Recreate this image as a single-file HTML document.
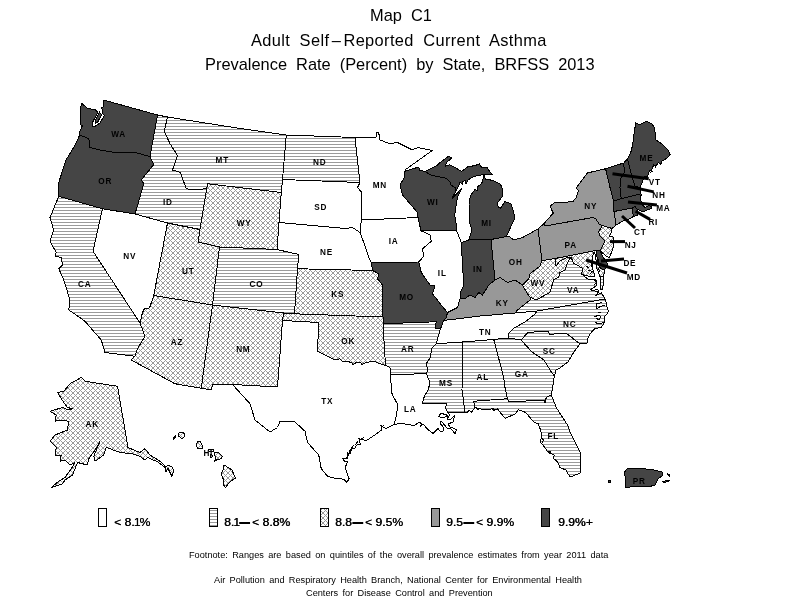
<!DOCTYPE html>
<html><head><meta charset="utf-8"><title>Map C1</title>
<style>
html,body{margin:0;padding:0;background:#fff;}
body{width:800px;height:600px;overflow:hidden;position:relative;font-family:"Liberation Sans",sans-serif;color:#000;}
svg{position:absolute;left:0;top:0;will-change:transform;}
.t{position:absolute;white-space:nowrap;line-height:1;will-change:transform;}
.ttl{font-size:16.4px;word-spacing:4.5px;}
.lg{font-size:11.2px;transform:scaleX(1.085);transform-origin:0 0;text-shadow:0.35px 0 0 #000;}
.fn{font-size:9.2px;word-spacing:1.8px;}
</style></head><body>
<svg width="800" height="600" viewBox="0 0 800 600">
<defs>
<pattern id="h" width="3" height="3" patternUnits="userSpaceOnUse"><rect width="3" height="3" fill="#fff"/><rect x="0" y="0" width="3" height="1" fill="#9a9a9a"/></pattern>
<pattern id="x" width="5" height="5" patternUnits="userSpaceOnUse"><rect width="5" height="5" fill="#fff"/>
<g fill="#9a9a9a">
<rect x="0" y="0" width="1" height="1"/><rect x="1" y="1" width="1" height="1"/><rect x="2" y="2" width="1" height="1"/><rect x="3" y="3" width="1" height="1"/><rect x="4" y="4" width="1" height="1"/><rect x="1" y="4" width="1" height="1"/><rect x="2" y="3" width="1" height="1"/><rect x="3" y="2" width="1" height="1"/><rect x="4" y="1" width="1" height="1"/>
</g></pattern>
</defs>
<g stroke="#000" stroke-width="1" stroke-linejoin="round" shape-rendering="crispEdges">
<polygon fill="url(#h)" points="58.75,196.25 102.5,208.75 93,251.25 140,323 145,336.25 137.5,348.75 135,356.25 105,352.5 101.25,340 92.5,330 85,321.25 76.25,315 68.75,310 70,300 63.75,280 58.75,268.75 62.5,265 61.25,257.5 55,256 56.25,252.5 50,241.25 53.75,230 50,217.5"/>
<polygon fill="#fff" points="102.5,208.75 135,214 167.5,223 153.75,295.5 149.5,308 144.5,308.5 142.5,312.5 140,323 93,251.25 102.5,208.75"/>
<polygon fill="url(#h)" points="157.5,115 167.5,117 164.25,131.25 170,143.75 177.5,155.5 172.5,170 180.5,172.5 186.25,188.75 196.25,190 205,188.75 207,187 200,229.5 167.5,223 135,214 143.75,183.75 141.25,180 153.75,164.5 150,156.5 157.5,115"/>
<polygon fill="url(#h)" points="167.5,117 240,128.5 286.25,135 282.5,179.5 281.25,192.5 207.5,183.75 207,187 205,188.75 196.25,190 186.25,188.75 180.5,172.5 172.5,170 177.5,155.5 170,143.75 164.25,131.25 167.5,117"/>
<polygon fill="url(#x)" points="207.5,183.75 281.25,192.5 279,222.5 277,249.5 219.5,247 198,242 200,229.5 207,187"/>
<polygon fill="url(#x)" points="167.5,223 200,229.5 198,242 219.5,247 212.5,305 153.75,295.5 167.5,223"/>
<polygon fill="url(#h)" points="219.5,247 277,249.5 298.75,254.5 297.5,268.75 294.5,313.8 283.75,313 212.5,305 219.5,247"/>
<polygon fill="url(#x)" points="153.75,295.5 212.5,305 201.25,388.25 175,383.75 131.25,360 135,356.25 137.5,348.75 145,336.25 140,323 142.5,312.5 144.5,308.5 149.5,308 153.75,295.5"/>
<polygon fill="url(#x)" points="212.5,305 283.75,313 282.5,320.5 277.5,387 232.5,384.5 212.5,384.5 211.25,390 201.25,388.25 212.5,305"/>
<polygon fill="url(#h)" points="286.25,135 355,137.5 360,182.5 282.5,179.5 286.25,135"/>
<polygon fill="#fff" points="282.5,179.5 360,182.5 357.5,187.5 361.75,192.5 361.5,220 360,228.75 360,232.5 352.5,227.5 345,228.5 279,222.5 281.25,192.5 282.5,179.5"/>
<polygon fill="#fff" points="279,222.5 345,228.5 352.5,227.5 360,232.5 363.75,242.5 368.75,257.5 371.25,262.5 372.5,270.5 297.5,268.75 298.75,254.5 277,249.5 279,222.5"/>
<polygon fill="url(#x)" points="297.5,268.75 372.5,270.5 378.75,273.75 377.5,278.75 382.5,285 383,317 294.5,313.8 297.5,268.75"/>
<polygon fill="url(#x)" points="283.75,313 294.5,313.8 383,317 383,323.75 385.5,365.5 380,363.75 374,361 366,362.5 362,364.4 360,362 356,362.5 353,365 352,363 347,361 343,362 340,358.75 335,360 325,355 317.5,351.25 318.75,322.5 282.5,320.5 283.75,313"/>
<polygon fill="#fff" points="282.5,320.5 318.75,322.5 317.5,351.25 325,355 335,360 340,358.75 343,362 347,361 352,363 353,365 356,362.5 360,362 362,364.4 366,362.5 374,361 380,363.75 385.5,365.5 390,367.5 390.75,374.5 391.25,391.25 392.5,395 398,405 396,417 394,424.5 394.7,424.3 386,428.4 383,427 380.1,424.9 381.9,426 381.3,430.2 376.6,433.7 367.3,440 363.8,440 361.5,439.5 359,438.5 359.7,440.7 360.3,444.2 356.2,445.3 355,448.2 351.6,448.8 350.4,453.5 347.5,452.9 348,458.1 342.8,458.7 344.6,461.6 347.5,461.6 345.2,467.5 349.2,479.1 346.3,482.4 344,479.1 335.8,478.6 327.5,476.25 321.25,468.75 318.75,455 307.5,442.5 305,431.25 295,422 280,421.25 277.5,427.5 270,432 255,420 250,403.75 232.5,384.5 277.5,387 282.5,320.5"/>
<polygon fill="#fff" points="355,137.5 376.25,137 376.25,132.5 378.75,133 380,140 390,143.75 397.5,142.5 400,143.75 406,146.75 412,149.75 418,147.5 432.25,150.5 406,169.25 404.5,171.5 405,176.25 400,185 402.5,195 417.5,212.5 418,217.5 361.5,220 361.75,192.5 357.5,187.5 360,182.5 355,137.5"/>
<polygon fill="#fff" points="361.5,220 418,217.5 421,230.75 430,235 431.25,241.25 422.5,248.75 423.75,256.25 418.75,262 371.25,262.5 368.75,257.5 363.75,242.5 360,232.5 360,228.75 361.5,220"/>
<polygon fill="url(#h)" points="383,323.75 436.25,321.75 435,328.75 440.5,328.75 437.5,338.75 436.25,343.75 432,348 430,358 426,364 428,370 426.25,373.75 390.75,374.5 390,367.5 385.5,365.5 383,323.75"/>
<polygon fill="#fff" points="390.75,374.5 426.25,373.75 427,375 430,383 428,390 424.5,396 422,404 446.5,403.5 445.5,408 448,413 450,415 447,419 450,420 454.5,415.5 453,422 448,424 450,427 456.5,429.5 455,433.5 451,429 447,428 444.5,425 441,421 440,423 443,427 443.5,430.5 441,432 438,428.5 433,433.5 428,429.5 423,424 420,427 422,423.5 419,422.5 414,425.5 405,424 400,423.5 394,424.5 396,417 398,405 392.5,395 391.25,391.25 390.75,374.5"/>
<polygon fill="#fff" points="421,230.75 456.25,230 461.25,242.5 463.75,285 460,293.75 460,298.75 457.5,307.5 452.5,310 447.5,312.5 441.25,305 432.5,293.75 435,286 430,285 421.25,272.5 418.75,262 423.75,256.25 422.5,248.75 431.25,241.25 430,235 421,230.75"/>
<polygon fill="#fff" points="443.75,320.5 447.5,320 480,316 515,313 537,311 535,314 525,322 514,328 508,334 508,338 493.75,339.5 462.5,342 436.25,343.75 437.5,338.75 440.5,328.75 443.75,320.5"/>
<polygon fill="url(#h)" points="436.25,343.75 462.5,342 462,390 465,412 450,412.5 448,413 445.5,408 446.5,403.5 422,404 424.5,396 428,390 430,383 427,375 426.25,373.75 428,370 426,364 430,358 432,348 436.25,343.75"/>
<polygon fill="url(#h)" points="462.5,342 493.75,339.5 503.75,377.5 505,387.5 507.5,398.75 473.75,401.25 475,407.5 471.25,412.5 468.75,410 467.5,412.5 465,412 462,390 462.5,342"/>
<polygon fill="url(#h)" points="493.75,339.5 508,338 521,340 532,352 544,360 550,370 554.4,376 553.75,378.75 552.5,388.75 551.25,395 546.25,397.5 545,402.5 543.75,400 508.75,402 507.5,398.75 505,387.5 503.75,377.5 493.75,339.5"/>
<polygon fill="url(#h)" points="507.5,398.75 508.75,402 543.75,400 545,402.5 546.25,397.5 551.25,395 556.7,408.3 567.5,425 570,431.7 580,451.7 580.8,458.3 580,473.3 570,477 565.8,470 560,467.5 557.5,461.7 553.3,458.3 554.2,455 548.3,452.5 544.2,446.7 540,441.7 541.7,436.7 540.8,430.8 538.3,423.7 534.2,422.5 525.8,412.5 518.3,409.7 515,414.2 505,418.3 498.3,410 492.5,408.75 485,410 475,407.5 471.25,412.5 475,407.5 473.75,401.25 507.5,398.75"/>
<polygon fill="url(#h)" points="521,340 528,332.4 548,331 550,334.4 566,333 580,344 574,352 568,362 560,368 556,370 554.4,376 550,370 544,360 532,352 521,340"/>
<polygon fill="url(#h)" points="537,311 605,299 606.5,303 607,307 608.5,311 607,314 604,317 605,321 603,325 601,327.5 595,328.5 592.5,331 590,334 587.5,339 587,343 580,344 566,333 550,334.4 548,331 528,332.4 521,340 508,338 508,334 514,328 525,322 535,314 537,311"/>
<polygon fill="url(#h)" points="515,313 517.5,310 530,300 530,297 536,300 550,292.5 553.75,279.5 558.75,277 560,272.5 565,270 567.5,262.5 571,257 573.5,263 582.5,268.25 581.75,274.25 588,279.25 596.25,280 596.25,286 590.25,289.75 598.5,292 595.5,295.75 601.5,293 605,299 537,311 515,313"/>
<polygon fill="url(#h)" points="600,276.5 603,276 604,280 602.5,289.75 601,290 600.5,283"/>
<polygon fill="url(#x)" points="541.9,260.6 555,258.5 556,266 560,261 566,258 571,257 567.5,262.5 565,270 560,272.5 558.75,277 553.75,279.5 550,292.5 536,300 530,297 527.5,293.75 522.5,285 528.75,278.75 530,273.75 540,266.25 541.9,260.6"/>
<polygon fill="url(#x)" points="555,258.5 596,250.5 597.5,260.5 599.5,267.5 604,270 605,272 603,276 600,276.5 599,274 597.5,270 596,266 596.5,262 595.5,258 595,254 594,252.5 592.5,256 593,260 591.5,264 592.5,268 593.5,272 595,276 588,276 585.5,275.75 581.75,274.25 582.5,268.25 573.5,263 571,257 566,258 560,261 556,266 555,258.5"/>
<polygon fill="url(#x)" points="602.5,225.5 612,228.5 611,233 609.5,236 613,237 614,245 612,251 609.5,257.5 606,256 600,250.8 601,249 605,241 600,236 598.5,232 602.5,225.5"/>
<polygon fill="#989898" points="491,239.5 506.25,236.5 510,237 513.5,240 522.5,237.5 538,229 541.9,260.6 540,266.25 530,273.75 528.75,278.75 522.5,285 515,280 507.5,282.5 500,277.5 495,280 491,239.5"/>
<polygon fill="#989898" points="447.5,312.5 452.5,310 457.5,307.5 460,298.75 465,298.75 470,295 475,297.5 478.75,292.5 482.5,295 488.75,285 495,280 500,277.5 507.5,282.5 515,280 522.5,285 527.5,293.75 530,297 530,300 517.5,310 515,313 480,316 447.5,320 443.75,320.5 446.25,317.5 447.5,312.5"/>
<polygon fill="#989898" points="538,229 544,223.5 545,226 593,217.5 596,219 599,224 602.5,225.5 598.5,232 600,236 605,241 601,249 600,250.8 596,250.5 555,258.5 541.9,260.6 538,229"/>
<polygon fill="#989898" points="544,223.5 553.3,213 550,206.3 554,203 572.7,201.7 576.7,197 577.3,193.7 578.7,190.3 576,188.3 587.3,173 605.6,168.75 610,187.5 613.5,201 614,211.5 616,225 614,227 612,228.5 602.5,225.5 599,224 596,219 593,217.5 545,226"/>
<polygon fill="#989898" points="614,211.5 632,208 633.5,216.5 629,219 622,221.5 616,225 614,211.5"/>
<polygon fill="#454545" points="81.25,103 87,108 95.5,110 97.75,112.5 92.5,122.5 92.5,126 94,127 100,123 104.5,115.5 102.25,113.25 103,110.25 101.5,108 104,106 103.4,100 157.5,115 150,156.5 135,152.5 115,152.5 100,150 90,147.5 89.5,143 88.75,138.75 84,136.5 79.5,135.5 80,131 82.5,125.5 80,124.5 80.5,114"/>
<polygon fill="#454545" points="79.5,135.5 84,136.5 88.75,138.75 89.5,143 90,147.5 100,150 115,152.5 135,152.5 150,156.5 153.75,164.5 141.25,180 143.75,183.75 135,214 102.5,208.75 58.75,196.25 58.75,182.5 66,160 74,147"/>
<polygon fill="#454545" points="371.25,262.5 418.75,262 421.25,272.5 430,285 435,286 432.5,293.75 441.25,305 447.5,312.5 446.25,317.5 443.75,320.5 440.5,328.75 435,328.75 436.25,321.75 383,323.75 383,317 382.5,285 377.5,278.75 378.75,273.75 372.5,270.5 371.25,262.5"/>
<polygon fill="#454545" points="404.5,171.5 418.75,167 419.5,170 424.75,171.5 431.5,175.25 446.5,178.25 450.25,182 451,185 455.5,188 455.5,191.75 452,198.5 461.5,188.75 457.75,196.25 456.25,204.5 454.75,215 456.25,224 456.25,230 421,230.75 418,217.5 417.5,212.5 402.5,195 400,185 405,176.25 404.5,171.5"/>
<polygon fill="#454545" points="424.75,171.5 431.5,175.25 446.5,178.25 450.25,182 451,185 455.5,188 455.5,191.75 457.75,188 460,182 462.25,184.25 463,181.25 465.25,180.5 466,183.5 468.25,179.75 473.5,176.75 478,175.25 484,174.8 493,174.5 490,172.25 487,167 481.75,167.75 479.5,164 475,165.5 467.5,167 461.5,171.5 455.5,167.75 449.5,164.75 445,166.25 446.5,162.5 451.75,158 448.75,156.2 442,161 436,166.25"/>
<polygon fill="#454545" points="484,175.25 485.5,179 493,180.5 500.5,184.25 502,188 502,197 497.5,203 498.25,207.5 500.5,208.25 505,201.5 511,203.75 514,213.5 514.75,218 512.5,223.25 506.25,236.5 491,239.5 468.75,240 472,230 469,221 469,212 469,204.5 470.5,195.5 475,189.5 477.25,191 478,186.5 481.75,183.5"/>
<polygon fill="#454545" points="461.25,242.5 468.75,240 491,239.5 495,280 488.75,285 482.5,295 478.75,292.5 475,297.5 470,295 465,298.75 460,298.75 460,293.75 463.75,285 461.25,242.5"/>
<polygon fill="#454545" points="596,250.5 600,250.8 603,257 607,262.5 607.5,266.5 604,270 599.5,267.5 597.5,260.5 596,250.5"/>
<polygon fill="#454545" points="605.6,168.75 623.75,163 624.4,172.5 620.6,178.75 620,187.5 621.25,198.75 613.5,201 610,187.5 605.6,168.75"/>
<polygon fill="#454545" points="623.75,163 627.5,158.75 631.25,173.75 633.75,182.5 635,186.25 640,187.5 641.25,195.6 638.75,194.4 621.25,198.75 620,187.5 620.6,178.75 624.4,172.5 623.75,163"/>
<polygon fill="#454545" points="635.75,122.75 639.5,125 646.25,121.25 652.25,124.25 654.5,128 656,140 662.75,144.5 668,149.75 670.25,154.25 667.25,158 662,161 660.5,164 658.25,162.5 656,166.25 653.75,164.75 651.5,170 649.25,170.75 647.75,176 644.75,176 642,183 640,187.5 635,186.25 633.75,182.5 631.25,173.75 627.5,158.75 630.5,153.5 632.75,144.5 634.25,132.5"/>
<polygon fill="#454545" points="613.5,201 621.25,198.75 638.75,194.4 641.25,195.6 640,198.75 642.5,205 645,207.5 649,205.5 652,207 651,208.5 647,210 643,212 637,209 635,206.5 632,208 614,211.5 613.5,201"/>
<polygon fill="#454545" points="632,208 635,206.5 637,209 638,213 637,215.5 633.5,216.5 632,208"/>
<polygon fill="url(#x)" points="81.25,377.5 85,381.25 117.5,386.25 128,447.5 140,452.5 145,448.75 150,455 160,461.25 165.6,466.25 169.4,465.6 172.5,467.5 173.75,471.25 171.9,476.25 170,472.5 168.1,468.5 166,472 165,467.5 158,462 147.5,457.5 145,460 140,456.25 132.5,453.75 120,452.5 110,448.75 106.25,447.5 103.75,455 95,461.25 93.75,456.25 96.25,450 100,441.25 97,447 95,450 88.75,458.75 87.5,465 77.5,462.5 72.5,475 65,480 62.5,483.75 51.25,487.5 58.75,481.25 65,477.5 71.25,468.75 75,462.5 70,465 65,460 60,461.25 61.25,455 55,455 56.25,447.5 50,441.25 55,435 67.5,430 68.75,421.25 61.25,420 55,421.25 56.25,415 50,411.25 62.5,407.5 68.75,410 72.5,408.75 67.5,407.5 63.75,402.5 57.5,392.5 63.75,391.25 70,383.75"/>
<polygon fill="url(#x)" points="178.75,433.1 181.9,431.9 184.75,433.75 184.4,436.9 181.9,438.75 178.75,436.25"/>
<polygon fill="url(#x)" points="173.1,438.75 175.6,435.6 175,438.1 173.5,439.75"/>
<polygon fill="url(#x)" points="197.5,441.9 200,441.5 203.1,446.9 202.5,448.1 197.5,448.5 196.5,445"/>
<polygon fill="url(#x)" points="208.1,449.75 213.75,450 213.1,451.25 208.75,451"/>
<polygon fill="url(#x)" points="210,455 211.9,454.75 212.5,456.9 210.6,457.25"/>
<polygon fill="url(#x)" points="214.4,452.75 218.75,452.75 222.5,456.25 221.25,458.75 216.9,459.75 214.4,461.25 216,458.1 215,455.6"/>
<polygon fill="url(#x)" points="223.75,465.6 225,465.6 228.1,467.5 231.9,470 235.6,478.1 232.5,480 228.1,483.75 225.6,487.5 223.75,485 223.1,478.75 221.25,473.75 223.1,470"/>
<polygon fill="#454545" points="624,473 627,469 640,468.4 652,469.6 662,472 662,476 658,479 655,485 648,487 640,486 630,487 625,487 626,479"/>
<polygon fill="#454545" points="608,481 610,480.5 610,482.5 608.5,482.5"/>
<polygon fill="#454545" points="663,481.5 669,480 669,481 664,482.5"/>
<polygon fill="#454545" points="667,473.5 670,475 669.5,476 667.5,474.5"/>
</g>
<g stroke="#000" fill="#454545" stroke-width="1" shape-rendering="crispEdges"><polygon points="99.5,112 101.5,115 98,121.5 95.5,123.5 96,119"/></g>
<g stroke="#000" fill="none" stroke-width="1" shape-rendering="crispEdges"><path d="M596,304 L597,309 L600,306.5 L605,305 M596,304 L602,302.5 M594,317 L599,315 L601,317 L599,319.5 L596,318.5 M595,322 L598,324 L602,323 L604.5,321.5 M598,312 L601,313"/><path d="M353.5,445.5 L350,450.5 L348,455.5 L345.5,459.5 M358,441.5 L355,445 M364,437.5 L361,439 M384,425 L381.5,427"/><path d="M590,262 L593,264 L591,267 M588,270 L592,271.5 L590,274 M593,279 L597,282 L594,285 M595,289 L599,290.5 M586,266 L589,268 M598,268 L600,272 M597,257 L599,262"/><path d="M541,437.5 L543.5,440 L542,443 M547,452 L550,451 L550.5,454 M492,409 L495,411 M497,408.5 L499.5,410.5 M476,408.5 L479,409.5"/><path d="M655,167.5 L657,165 M650,172.5 L652.5,171 M660,165 L662,163"/></g>
<g stroke="#000" fill="#fff" stroke-width="1" shape-rendering="crispEdges"><polygon points="438.5,416.5 441,413.5 446,414.5 448,416 442,418"/></g>
<g stroke="#000" stroke-width="3" stroke-linecap="butt">
<line x1="612.5" y1="173.75" x2="648.75" y2="178.75"/>
<line x1="627.5" y1="186.25" x2="653.75" y2="191.9"/>
<line x1="628" y1="201.9" x2="656.9" y2="205"/>
<line x1="635.6" y1="211.25" x2="650" y2="219.4"/>
<line x1="622" y1="216" x2="635" y2="228"/>
<line x1="610" y1="241.6" x2="625" y2="241.6"/>
<line x1="601" y1="261" x2="624" y2="259"/>
<line x1="586" y1="260" x2="627" y2="273"/>
</g>
<g font-family="Liberation Sans, sans-serif" font-weight="bold" font-size="8.2" text-anchor="middle" letter-spacing="0.8" fill="#000">
<text x="118.55" y="137.25">WA</text>
<text x="105.3" y="184.25">OR</text>
<text x="167.8" y="205">ID</text>
<text x="222.3" y="163">MT</text>
<text x="319.8" y="165">ND</text>
<text x="320.8" y="210">SD</text>
<text x="379.8" y="188">MN</text>
<text x="244.05" y="226">WY</text>
<text x="256.55" y="286.75">CO</text>
<text x="326.55" y="255">NE</text>
<text x="337.8" y="297.25">KS</text>
<text x="188.3" y="273.5">UT</text>
<text x="129.8" y="258.75">NV</text>
<text x="84.8" y="286.75">CA</text>
<text x="177.05" y="345">AZ</text>
<text x="243.3" y="352.25">NM</text>
<text x="92.3" y="427.25">AK</text>
<text x="327.3" y="404.25">TX</text>
<text x="348.3" y="343.75">OK</text>
<text x="407.8" y="351.75">AR</text>
<text x="410.3" y="412.25">LA</text>
<text x="393.55" y="243.75">IA</text>
<text x="406.55" y="300">MO</text>
<text x="442.3" y="275.5">IL</text>
<text x="477.8" y="271.75">IN</text>
<text x="515.8" y="264.75">OH</text>
<text x="502.3" y="305.5">KY</text>
<text x="485.3" y="334.75">TN</text>
<text x="537.8" y="286.25">WV</text>
<text x="432.8" y="204.75">WI</text>
<text x="486.55" y="226">MI</text>
<text x="590.8" y="209.25">NY</text>
<text x="570.8" y="248">PA</text>
<text x="573.3" y="293">VA</text>
<text x="569.7" y="327">NC</text>
<text x="549.3" y="354">SC</text>
<text x="521.7" y="377">GA</text>
<text x="482.8" y="380">AL</text>
<text x="446.05" y="386">MS</text>
<text x="553.3" y="439.25">FL</text>
<text x="208.3" y="456">HI</text>
<text x="639.3" y="484.4">PR</text>
<text x="646.55" y="160.75">ME</text>
<text x="654.9" y="184.9">VT</text>
<text x="659.05" y="197.75">NH</text>
<text x="663.3" y="211">MA</text>
<text x="653.3" y="225">RI</text>
<text x="640.3" y="235">CT</text>
<text x="630.7" y="248">NJ</text>
<text x="629.9" y="266">DE</text>
<text x="633.9" y="280">MD</text>
</g>
<g stroke="#000" stroke-width="1" shape-rendering="crispEdges">
<rect x="98.5" y="508.5" width="8" height="18" fill="#fff"/>
<rect x="209.5" y="508.5" width="8" height="18" fill="url(#h)"/>
<rect x="320.5" y="508.5" width="8" height="18" fill="url(#x)"/>
<rect x="431.5" y="508.5" width="8" height="18" fill="#989898"/>
<rect x="541.5" y="508.5" width="8" height="18" fill="#454545"/>
</g>
</svg>
<div class="t ttl" id="t1" style="left:370px;top:7.2px;letter-spacing:0px;">Map C1</div>
<div class="t ttl" id="t2" style="left:250.8px;top:32px;letter-spacing:0.365px;">Adult Self<span style="margin:0 2.5px;letter-spacing:0">&#8211;</span>Reported Current Asthma</div>
<div class="t ttl" id="t3" style="left:205.2px;top:56.2px;letter-spacing:0px;">Prevalence Rate (Percent) by State, BRFSS 2013</div>
<div class="t lg" id="l0" style="left:114px;top:517px;">&lt; 8.<span class="o">1</span>%</div>
<div class="t lg" id="l1" style="left:223.6px;top:517px;">8.<span class="o">1</span><b class="d"></b>&lt; 8.8%</div>
<div class="t lg" id="l2" style="left:335px;top:517px;">8.8<b class="d"></b>&lt; 9.5%</div>
<div class="t lg" id="l3" style="left:446.2px;top:517px;">9.5<b class="d"></b>&lt; 9.9%</div>
<div class="t lg" id="l4" style="left:557.5px;top:517px;">9.9%+</div>
<div class="t fn" id="f1" style="left:189px;top:550.8px;">Footnote: Ranges are based on quintiles of the overall prevalence estimates from year 2011 data</div>
<div class="t fn" id="f2" style="left:214px;top:575.8px;">Air Pollution and Respiratory Health Branch, National Center for Environmental Health</div>
<div class="t fn" id="f3" style="left:306px;top:588.8px;">Centers for Disease Control and Prevention</div>
<style>.o{margin:0 -0.9px;}.d{display:inline-block;width:9.8px;height:2.6px;background:#000;vertical-align:middle;margin:0 1.8px 0px 0.4px;}</style>
</body></html>
